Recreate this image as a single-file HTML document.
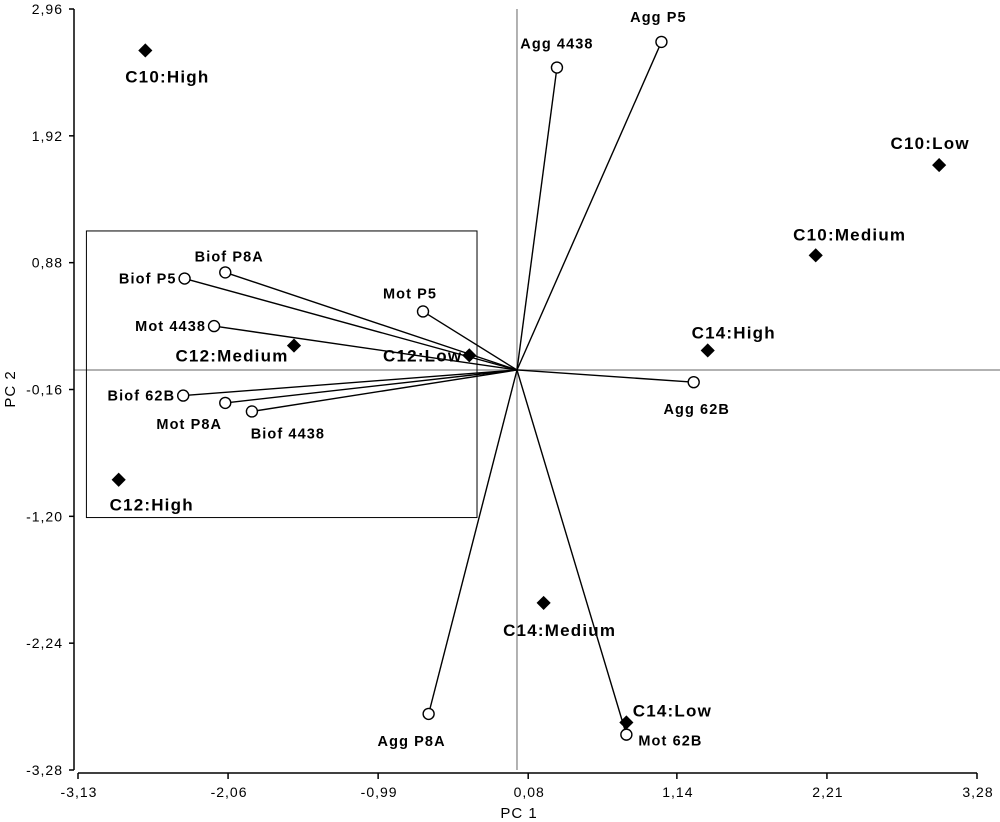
<!DOCTYPE html>
<html><head><meta charset="utf-8"><style>
html,body{margin:0;padding:0;background:#fff;}
svg{display:block;font-family:"Liberation Sans",Arial,sans-serif;}
</style></head><body>
<svg id="chart" width="1000" height="822" viewBox="0 0 1000 822" xmlns="http://www.w3.org/2000/svg"></svg>
<script>
// ---- data ----
const xTicks = [-3.13, -2.06, -0.99, 0.08, 1.14, 2.21, 3.28];
const yTicks = [2.96, 1.92, 0.88, -0.16, -1.20, -2.24, -3.28];
const loadingNames = ["Agg P5","Agg 4438","Biof P8A","Biof P5","Mot P5","Mot 4438","Biof 62B","Mot P8A","Biof 4438","Agg 62B","Agg P8A","Mot 62B"];
const loadingX = [1.03, 0.285, -2.08, -2.37, -0.67, -2.16, -2.38, -2.08, -1.89, 1.26, -0.63, 0.78];
const loadingY = [2.69, 2.48, 0.80, 0.75, 0.48, 0.36, -0.21, -0.27, -0.34, -0.10, -2.82, -2.99];
const scoreNames = ["C10:High","C10:Low","C10:Medium","C12:Medium","C12:Low","C14:High","C12:High","C14:Medium","C14:Low"];
const scoreX = [-2.65, 3.01, 2.13, -1.59, -0.34, 1.36, -2.84, 0.19, 0.78];
const scoreY = [2.62, 1.68, 0.94, 0.20, 0.12, 0.16, -0.90, -1.91, -2.89];
const boxX = [-3.07, -0.285];
const boxY = [1.14, -1.21];

// ---- layout (label offsets in px) ----
const loadLab = [["middle",-3,-20],["middle",0,-19],["middle",4,-11],["end",-8,5],["middle",-13,-13],["end",-8,5],["end",-8,5],["middle",-36,26],["middle",36,27],["middle",3,32],["middle",-17,32],["start",12,11]];
const scoreLab = [["middle",22,32],["middle",-9,-16],["middle",34,-15],["middle",-62,16],["end",-7,6],["middle",26,-12],["middle",33,31],["middle",16,33],["middle",46,-6]];

const X0=78, X1=977, Y0=9, Y1=770;
const xmin=-3.13,xmax=3.28,ymin=-3.28,ymax=2.96;
const sx=v=>X0+(v-xmin)/(xmax-xmin)*(X1-X0);
const sy=v=>Y0+(ymax-v)/(ymax-ymin)*(Y1-Y0);
const svg=document.getElementById('chart');
const NS="http://www.w3.org/2000/svg";
function mk(t,a,p){const e=document.createElementNS(NS,t);for(const k in a)e.setAttribute(k,a[k]);(p||svg).appendChild(e);return e;}
function txt(s,a){const e=mk('text',a);e.textContent=s;return e;}

let e;
e=mk('line',{x1:sx(0),y1:Y0,x2:sx(0),y2:Y1,stroke:'#999','stroke-width':1.5});


e=mk('line',{x1:X0-4,y1:sy(0),x2:X1+23,y2:sy(0),stroke:'#999','stroke-width':1.5});



e=mk('rect',{x:sx(boxX[0]),y:sy(boxY[0]),width:sx(boxX[1])-sx(boxX[0]),height:sy(boxY[1])-sy(boxY[0]),fill:'none',stroke:'#000','stroke-width':1});



e=mk('line',{x1:74,y1:Y0,x2:74,y2:Y1,stroke:'#000','stroke-width':1.5});


e=mk('line',{x1:X0,y1:773,x2:X1,y2:773,stroke:'#000','stroke-width':1.5});


xTicks.forEach(v=>{
  mk('line',{x1:sx(v),y1:773,x2:sx(v),y2:779,stroke:'#000','stroke-width':1.5});
  e=txt(v.toFixed(2).replace('.',','),{x:sx(v)+1,y:797,'text-anchor':'middle','font-size':14,'letter-spacing':1,fill:'#000'});
  
  
});
yTicks.forEach(v=>{
  mk('line',{x1:69,y1:sy(v),x2:74,y2:sy(v),stroke:'#000','stroke-width':1.5});
  e=txt(v.toFixed(2).replace('.',','),{x:63,y:sy(v)+5,'text-anchor':'end','font-size':14,'letter-spacing':1,fill:'#000'});
  
  
});
e=txt('PC 1',{x:519,y:818,'text-anchor':'middle','font-size':15,'letter-spacing':1});


e=txt('PC 2',{x:15,y:389,'text-anchor':'middle','font-size':15,'letter-spacing':1,transform:'rotate(-90 15 389)'});



loadingNames.forEach((n,i)=>{
  const px=sx(loadingX[i]),py=sy(loadingY[i]);
  e=mk('line',{x1:sx(0),y1:sy(0),x2:px,y2:py,stroke:'#000','stroke-width':1.4});
  
  
});
scoreNames.forEach((n,i)=>{
  const px=sx(scoreX[i]),py=sy(scoreY[i]);
  e=mk('rect',{x:px-5,y:py-5,width:10,height:10,fill:'#000',transform:`rotate(45 ${px} ${py})`});
  
  
  const L=scoreLab[i];
  e=txt(n,{x:px+L[1],y:py+L[2],'text-anchor':L[0],'font-size':17,'letter-spacing':1.2,'font-weight':'bold'});
  
  
});
loadingNames.forEach((n,i)=>{
  const px=sx(loadingX[i]),py=sy(loadingY[i]);
  e=mk('circle',{cx:px,cy:py,r:5.5,fill:'#fff',stroke:'#000','stroke-width':1.4});
  
  
  const L=loadLab[i];
  e=txt(n,{x:px+L[1],y:py+L[2],'text-anchor':L[0],'font-size':14.5,'letter-spacing':1.1,'font-weight':'bold'});
  
  
});
</script>
</body></html>
